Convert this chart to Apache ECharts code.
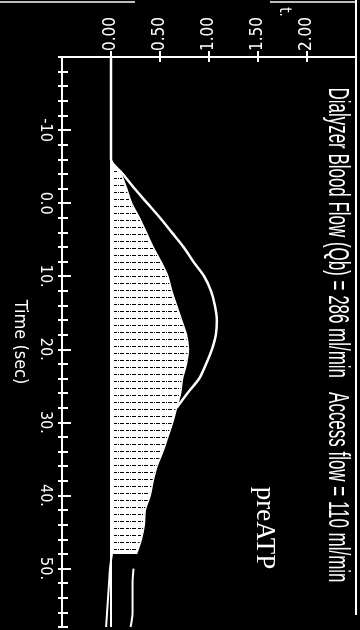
<!DOCTYPE html>
<html>
<head>
<meta charset="utf-8">
<script src="https://cdn.jsdelivr.net/npm/echarts@6/dist/echarts.min.js"></script>
<style>
  html, body { margin: 0; padding: 0; background: #000; }
  #chart { width: 360px; height: 630px; }
</style>
</head>
<body>
<div id="chart"></div>
<script>
// time axis, one category every 2 s (drawn top -> bottom, page is rotated)
const times = [-20, -18, -16, -14, -12, -10, -8, -6, -4, -2, 0, 2, 4, 6, 8, 10, 12, 14, 16, 18,
  20, 22, 24, 26, 28, 30, 32, 34, 36, 38, 40, 42, 44, 46, 48, 50, 52, 54, 56, 58]
const timeLabelAt = [-10, 0, 10, 20, 30, 40, 50]
const timeLabelText = ['-10', '0.0', '10.', '20.', '30.', '40.', '50.']
const valueTicks = [0, 0.5, 1, 1.5, 2]
const valueText = ['0.00', '0.50', '1.00', '1.50', '2.00']

// outer curve (fit), starts at t = -20, ends where it meets the measured curve
const fitCurve = [0, 0, 0, 0, 0, 0, 0, 0, 0.12, 0.24, 0.37, 0.50, 0.62, 0.74, 0.84, 0.95,
  1.02, 1.06, 1.08, 1.07, 1.03, 0.97, 0.90, 0.78, 0.67]
// measured curve (hatched), starts at t = -20
const measured = [0, 0, 0, 0, 0, 0, 0, 0, 0.10, 0.16, 0.21, 0.29, 0.36, 0.43, 0.51, 0.58,
  0.62, 0.67, 0.72, 0.77, 0.79, 0.77, 0.73, 0.71, 0.67, 0.63, 0.58, 0.53, 0.47, 0.43,
  0.40, 0.35, 0.34, 0.31, 0.26]
// the two short traces after the hatched block
const tailUpperTimes = [50, 52, 54, 56, 58]
const tailUpper = [0.23, 0.22, 0.22, 0.22, 0.20]
const tailLowerTimes = [48, 50, 52, 54, 56, 58]
const tailLower = [0.01, -0.01, -0.02, -0.03, -0.04, -0.05]

const title = 'Dialyzer Blood Flow (Qb) = 286 ml/min   Access flow = 110 ml/min'
const narrow = "'Liberation Sans Narrow', 'DejaVu Sans Condensed', 'Liberation Sans', sans-serif"

const cats = times.map(String)
const pairs = (ts, vs) => ts.map((t, i) => [vs[i], String(t)])

// horizontal hatch like the scanned plot: white with thin broken dark rows
function hatch() {
  const c = document.createElement('canvas')
  c.width = 12; c.height = 7
  const g = c.getContext('2d')
  g.fillStyle = '#fff'; g.fillRect(0, 0, 12, 7)
  g.fillStyle = '#000'
  g.fillRect(0, 3, 4, 1); g.fillRect(6, 3, 3, 1); g.fillRect(10, 3, 1, 1)
  return { image: c, repeat: 'repeat' }
}

function squeeze(str, font, length) {
  const g = document.createElement('canvas').getContext('2d')
  g.font = font
  return length / g.measureText(str).width
}

const titleFont = "30px 'Liberation Sans', sans-serif"
const white = '#fff'

const chart = echarts.init(document.getElementById('chart'))
chart.setOption({
  backgroundColor: '#000',
  animation: false,
  grid: { left: 62, top: 57, width: 294, height: 570 },
  xAxis: [
    {
      type: 'value', position: 'top', min: -0.5, max: 2.5,
      axisLine: { show: true, onZero: false, lineStyle: { color: white, width: 2 } },
      axisTick: { show: true, customValues: valueTicks, length: 6, lineStyle: { color: white, width: 2 } },
      axisLabel: {
        customValues: valueTicks, rotate: -90, margin: 6, color: white,
        fontFamily: narrow, fontSize: 17,
        formatter: v => valueText[valueTicks.indexOf(v)]
      },
      splitLine: { show: false }
    },
    {
      type: 'value', position: 'top', min: -0.5, max: 2.5,
      axisLine: { show: false, onZero: false },
      axisTick: { show: true, customValues: valueTicks, inside: true, length: 5, lineStyle: { color: white, width: 2 } },
      axisLabel: { show: false },
      splitLine: { show: false }
    }
  ],
  yAxis: [
    {
      type: 'category', data: cats, inverse: true, boundaryGap: false, position: 'left',
      axisLine: { show: true, onZero: false, lineStyle: { color: white, width: 2 } },
      axisTick: { show: true, interval: 0, inside: true, length: 6, lineStyle: { color: white, width: 2 } },
      axisLabel: {
        interval: (i, v) => timeLabelAt.includes(Number(v)),
        formatter: v => timeLabelText[timeLabelAt.indexOf(Number(v))],
        rotate: -90, margin: 9, color: white, fontFamily: narrow, fontSize: 16
      },
      name: 'Time (sec)', nameLocation: 'middle', nameRotate: -90, nameGap: 33,
      nameTextStyle: { color: white, fontFamily: narrow, fontSize: 18 }
    },
    {
      type: 'category', data: cats, inverse: true, boundaryGap: false, position: 'left',
      axisLine: { show: false, onZero: false },
      axisTick: { show: true, interval: 0, length: 4, lineStyle: { color: white, width: 2 } },
      axisLabel: { show: false }
    },
    {
      type: 'category', data: cats, inverse: true, boundaryGap: false, position: 'left',
      axisLine: { show: false, onZero: false },
      axisTick: {
        show: true, interval: (i, v) => timeLabelAt.includes(Number(v)),
        inside: true, length: 9, lineStyle: { color: white, width: 2 }
      },
      axisLabel: { show: false }
    }
  ],
  series: [
    {
      type: 'line', name: 'measured', data: measured, smooth: 0.3, symbol: 'none',
      lineStyle: { color: white, width: 1.5 },
      areaStyle: { color: hatch(), opacity: 1 },
      markLine: {
        silent: true, symbol: 'none', label: { show: false },
        lineStyle: { color: white, width: 2, type: 'solid' },
        data: [{ xAxis: 0 }]
      }
    },
    {
      type: 'line', name: 'fit', data: fitCurve, smooth: 0.3, symbol: 'none',
      lineStyle: { color: white, width: 2.5 }
    },
    {
      type: 'line', data: pairs(tailUpperTimes, tailUpper), smooth: 0.3, symbol: 'none',
      lineStyle: { color: white, width: 2 }
    },
    {
      type: 'line', data: pairs(tailLowerTimes, tailLower), smooth: 0.3, symbol: 'none',
      lineStyle: { color: white, width: 2 }
    }
  ],
  graphic: [
    {
      type: 'text', x: 337, y: 335, rotation: -Math.PI / 2,
      scaleX: squeeze(title, titleFont, 495),
      style: { text: title, font: titleFont, fill: white, align: 'center', verticalAlign: 'middle' }
    },
    {
      type: 'text', x: 264, y: 528, rotation: -Math.PI / 2,
      style: { text: 'preATP', font: "27px 'Liberation Serif', serif", fill: white, align: 'center', verticalAlign: 'middle' }
    },
    {
      type: 'text', x: 284, y: 12, rotation: -Math.PI / 2,
      style: { text: 't.', font: "15px " + narrow, fill: white, align: 'center', verticalAlign: 'middle' }
    },
    { type: 'line', shape: { x1: 356, y1: 0, x2: 356, y2: 615 }, style: { stroke: white, lineWidth: 2 } },
    { type: 'line', shape: { x1: 0, y1: 2, x2: 135, y2: 2 }, style: { stroke: white, lineWidth: 1.5 } },
    { type: 'line', shape: { x1: 270, y1: 2, x2: 356, y2: 2 }, style: { stroke: white, lineWidth: 1.5 } }
  ]
})
</script>
</body>
</html>
